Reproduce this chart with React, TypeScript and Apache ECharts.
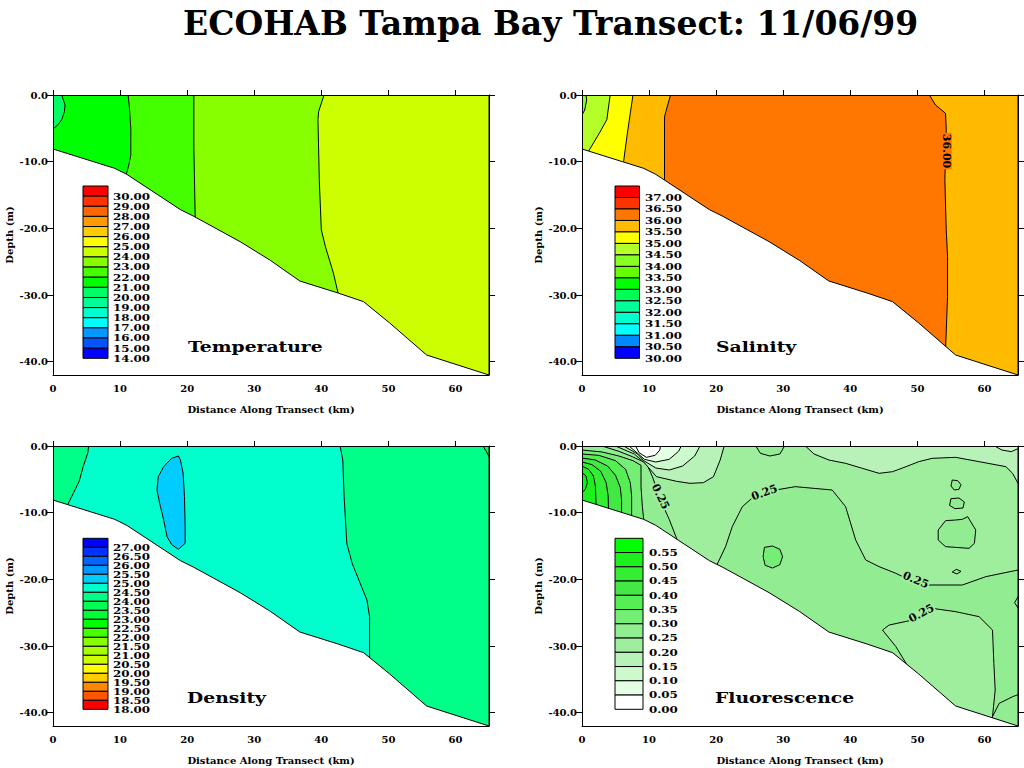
import React, { useEffect, useRef } from 'react';
import * as echarts from 'echarts';

const FONT = 'DejaVu Serif';

// ---------- axes ----------
const xTicks = [0, 10, 20, 30, 40, 50, 60];
const yTicks = [0, -10, -20, -30, -40];
const X_MAX = 65;
const Y_MIN = -42;

// ---------- bathymetry (km, m) ----------
const bathymetry: [number, number][] = [
  [0, -8.1], [9.2, -11.0], [11, -11.9], [19, -17.2], [21, -18.2], [27.9, -22], [32.4, -24.8],
  [36.8, -27.9], [42.5, -29.7], [46.3, -31], [50.2, -34.2], [55.7, -39], [65, -42],
];

type Region = { level: number; pts: [number, number][] };
type CLabel = { text: string; x: number; y: number; rot: number; bg: string };

// ---------- Temperature ----------
const tempLevels = [30, 29, 28, 27, 26, 25, 24, 23, 22, 21, 20, 19, 18, 17, 16, 15, 14];
const tempColors = ['#ff0000', '#ff3300', '#ff6600', '#ff9900', '#ffcc00', '#ffff00', '#ccff00', '#88ff00',
  '#44ff00', '#00ff00', '#00ff66', '#00ff99', '#00ffcc', '#00ffff', '#0099ff', '#0055ff', '#0000ff'];
const tempRegions: Region[] = [
  { level: 24, pts: [[0, 0], [65, 0], [65, -45], [0, -45]] },
  { level: 23, pts: [[0, 0], [40.4, 0], [39.6, -2.5], [39.5, -3.7], [39.7, -12.7], [40, -20.2], [40.6, -22.7], [41.8, -26.7], [42.5, -29.7], [42.5, -45], [0, -45]] },
  { level: 22, pts: [[0, 0], [21, 0], [21, -8], [21.2, -18.3], [21.2, -45], [0, -45]] },
  { level: 21, pts: [[0, 0], [11.2, 0], [11.4, -2], [11.6, -5], [11.6, -9], [11.3, -10.5], [10.9, -12], [10.9, -45], [0, -45]] },
  { level: 20, pts: [[0, 0], [1.3, 0], [1.8, -1.5], [1.7, -2.5], [1.3, -3.7], [0.7, -4.5], [0, -5.1]] },
];
const tempLabels: CLabel[] = [];

// ---------- Salinity ----------
const salLevels = [37, 36.5, 36, 35.5, 35, 34.5, 34, 33.5, 33, 32.5, 32, 31.5, 31, 30.5, 30];
const salColors = ['#ff0000', '#ff3300', '#ff7700', '#ffbb00', '#ffff00', '#b4ff2a', '#88ff22', '#66ff00',
  '#00ff00', '#00ff55', '#00ff99', '#00ffcc', '#00ffff', '#0088ff', '#0000ff'];
const salRegions: Region[] = [
  { level: 35.5, pts: [[0, 0], [65, 0], [65, -45], [0, -45]] },
  { level: 36, pts: [[13.2, 0], [51.8, 0], [52.7, -1.5], [54.2, -2.75], [54.3, -5.2], [54.1, -12.7], [54.3, -20.2], [54.5, -24.2], [54.5, -30.2], [54.2, -38.2], [54.2, -45], [12.3, -45], [12.3, -12.7], [12.3, -3.3], [12.5, -2.5]] },
  { level: 35, pts: [[0, 0], [7.6, 0], [7.2, -2.75], [6.7, -6.2], [6.2, -10], [6.2, -45], [0, -45]] },
  { level: 34.5, pts: [[0, 0], [4.2, 0], [4.1, -0.75], [3.7, -3.7], [2.6, -5.7], [1.0, -8.4], [1, -45], [0, -45]] },
  { level: 34, pts: [[0, 0], [0.6, 0], [0.7, -0.75], [0.4, -2.25], [0, -3]] },
];
const salLabels: CLabel[] = [{ text: '36.00', x: 54.3, y: -8.4, rot: -Math.PI / 2, bg: '#ff7700' }];

// ---------- Density ----------
const denLevels = [27, 26.5, 26, 25.5, 25, 24.5, 24, 23.5, 23, 22.5, 22, 21.5, 21, 20.5, 20, 19.5, 19, 18.5, 18];
const denColors = ['#0000ff', '#0033ff', '#0066ff', '#0099ff', '#00ccff', '#00ffcc', '#00ff88', '#00ff55',
  '#00ff33', '#00ff00', '#44ff00', '#88ff00', '#aaff00', '#ccff00', '#ffff00', '#ffcc00', '#ff8800', '#ff5500', '#ff0000'];
const denRegions: Region[] = [
  { level: 24, pts: [[0, 0], [65, 0], [65, -45], [0, -45]] },
  { level: 24.5, pts: [[5.3, 0], [42.8, 0], [43.2, -2.1], [43.4, -7.6], [43.8, -14.6], [44.6, -17.6], [45.8, -20.6], [46.8, -23.1], [47.2, -25.6], [47.2, -31.8], [47.2, -45], [2.2, -45], [2.2, -8.8], [3.9, -5.3], [4.5, -3.1], [5.2, -1.0]] },
  { level: 25, pts: [[18.7, -1.5], [19.0, -2.1], [19.4, -4.1], [19.6, -7.6], [19.7, -12.1], [19.7, -14.6], [18.7, -15.5], [17.7, -14.8], [17.0, -13.6], [16.5, -11.1], [15.9, -8.6], [15.5, -6.6], [15.7, -4.6], [16.5, -3.1], [17.7, -1.85]] },
  { level: 23.5, pts: [[64.1, 0], [65, 0], [65, -1.6], [64.6, -0.8]] },
];
const denLabels: CLabel[] = [];

// ---------- Fluorescence ----------
const fluLevels = [0.55, 0.5, 0.45, 0.4, 0.35, 0.3, 0.25, 0.2, 0.15, 0.1, 0.05, 0];
const fluColors = ['#00ff00', '#1ef01e', '#33ee33', '#44e844', '#55ee55', '#74ee74', '#92ec92', '#9eee9e',
  '#b8f2b8', '#ccfacc', '#e4ffe4', '#ffffff'];
const fluRegions: Region[] = [
  { level: 0.2, pts: [[0, 0], [65, 0], [65, -45], [0, -45]] },
  { level: 0.25, pts: [[20.1, -17.85], [21.4, -15.1], [22.4, -12.1], [23.9, -9.1], [25.6, -7.6], [27.4, -6.85], [31.8, -6.1], [37.3, -6.6], [39.3, -9.1], [40.8, -14.1], [42.3, -17.1], [44.3, -18.1], [46.8, -19.1], [49.3, -20.35], [51.7, -20.85], [56.7, -20.85], [60.2, -19.6], [65, -18.6], [65, -45], [20.1, -45]] },
  { level: 0.2, pts: [[48.8, -33.4], [46.8, -30.1], [44.8, -27.6], [45.8, -26.85], [49.3, -26.1], [52.2, -24.35], [55.7, -24.85], [59.2, -25.6], [61.2, -27.6], [61.4, -32.6], [61.6, -36.6], [61.2, -40.6], [61.2, -45], [48.8, -45]] },
  { level: 0.25, pts: [[61.2, -40.6], [62.2, -38.6], [64.2, -37.6], [65, -37.3], [65, -45], [61.2, -45]] },
  { level: 0.3, pts: [[27.2, -15.2], [28.4, -15.0], [29.5, -15.5], [29.9, -16.6], [29.5, -17.8], [28.4, -18.3], [27.3, -17.9], [27.0, -16.6]] },
  { level: 0.25, pts: [[55.2, -5.1], [56.0, -5.2], [56.5, -5.8], [56.2, -6.5], [55.5, -6.6], [55.0, -6.0]] },
  { level: 0.25, pts: [[55.0, -7.9], [56.2, -7.8], [57.0, -8.4], [56.8, -9.3], [55.6, -9.4], [54.8, -8.9]] },
  { level: 0.25, pts: [[54.2, -11.2], [55.7, -11.1], [56.7, -11.0], [57.5, -10.6], [58.7, -12.6], [58.5, -14.6], [57.7, -15.35], [54.2, -15.1], [53.1, -14.1], [53.1, -12.6]] },
  { level: 0.25, pts: [[55.2, -18.9], [55.8, -18.5], [56.5, -18.8], [55.9, -19.2]] },
  { level: 0.25, pts: [[25.9, 0], [26.6, -1.1], [28, -1.5], [29.5, -1.2], [30.2, 0]] },
  { level: 0.15, pts: [[33.3, 0], [34.6, -1.2], [36.8, -2.1], [39.3, -2.6], [41.8, -3.35], [44.3, -4.1], [46.3, -3.85], [48.3, -3.1], [50.2, -2.35], [52.2, -1.85], [55.7, -1.7], [59.2, -2.35], [63.2, -3.1], [64.2, -4.1], [65, -5.6], [65, 0]] },
  { level: 0.1, pts: [[61.5, 0], [62.6, -0.6], [64, -0.85], [65, -0.4], [65, 0]] },
  { level: 0.2, pts: [[65, -22.6], [64.5, -23.5], [65, -24.3]] },
  { level: 0.25, pts: [[0, 0], [3, 0], [5.5, -0.8], [7.5, -1.6], [9.2, -2.4], [9.7, -2.8], [10.5, -4.6], [11.7, -8.1], [13, -11], [14.2, -14.1], [14.2, -45], [0, -45]] },
  { level: 0.3, pts: [[0, -0.6], [3, -0.9], [5.5, -1.5], [7.6, -2.2], [8.8, -2.9], [8.8, -4.1], [8.8, -6.1], [9.0, -9.1], [9.2, -11.0], [9.2, -45], [0, -45]] },
  { level: 0.35, pts: [[0, -1.2], [2.5, -1.4], [5, -2.2], [6.5, -3.5], [7.2, -5.5], [7.4, -7.5], [7.4, -10.4], [7.4, -45], [0, -45]] },
  { level: 0.4, pts: [[0, -1.8], [2, -2.1], [3.8, -3.0], [5, -4.4], [5.7, -6.2], [5.9, -8.0], [5.9, -10], [5.9, -45], [0, -45]] },
  { level: 0.45, pts: [[0, -2.4], [1.5, -2.8], [2.8, -3.8], [3.6, -5.5], [3.9, -7.5], [3.95, -9.4], [3.95, -45], [0, -45]] },
  { level: 0.5, pts: [[0, -3.0], [1.0, -3.5], [1.7, -4.5], [2.0, -6], [2.1, -8.8], [2.1, -45], [0, -45]] },
  { level: 0.55, pts: [[0, -4], [0.6, -4.5], [0.8, -5.5], [0.5, -6.5], [0, -7]] },
  { level: 0.15, pts: [[5, 0], [7.8, -1.2], [9.2, -2.4], [11.1, -4.6], [14.1, -5.3], [16.1, -5.6], [18.1, -5.5], [19.6, -4.6], [20.6, -2.1], [21.2, 0]] },
  { level: 0.1, pts: [[6.2, 0], [8.3, -1.2], [9.2, -2.2], [11, -3.3], [13, -3.6], [15, -3], [16.8, -1.5], [17.6, 0]] },
  { level: 0.05, pts: [[7.0, 0], [8.4, -1.2], [9.3, -2.0], [11, -2.4], [13, -2.0], [14.4, -0.8], [14.8, 0]] },
  { level: 0, pts: [[8.0, 0], [8.5, -1.0], [9.6, -1.7], [10.9, -1.4], [11.6, -0.6], [11.7, 0]] },
];
const fluLabels: CLabel[] = [
  { text: '0.25', x: 11.7, y: -7.6, rot: -1.13, bg: '#9eee9e' },
  { text: '0.25', x: 27.2, y: -7.0, rot: 0.35, bg: '#9eee9e' },
  { text: '0.25', x: 49.75, y: -20.1, rot: -0.4, bg: '#9eee9e' },
  { text: '0.25', x: 50.6, y: -25.1, rot: 0.5, bg: '#9eee9e' },
];

type Panel = {
  title: string; levels: number[]; colors: string[]; regions: Region[]; labels: CLabel[];
  left: number; top: number; lx: number; ly: number; lw: number; lh: number; tx: number;
  nx: number; ny: number; digits: number;
};

const panels: Panel[] = [
  { title: 'Temperature', levels: tempLevels, colors: tempColors, regions: tempRegions, labels: tempLabels,
    left: 53, top: 95, lx: 83, ly: 186, lw: 25, lh: 172.3, tx: 113, nx: 188, ny: 347, digits: 2 },
  { title: 'Salinity', levels: salLevels, colors: salColors, regions: salRegions, labels: salLabels,
    left: 582, top: 95, lx: 615, ly: 186, lw: 24.5, lh: 172.3, tx: 645, nx: 716, ny: 347, digits: 2 },
  { title: 'Density', levels: denLevels, colors: denColors, regions: denRegions, labels: denLabels,
    left: 53, top: 446, lx: 83, ly: 538.3, lw: 25, lh: 171, tx: 113, nx: 187, ny: 698, digits: 2 },
  { title: 'Fluorescence', levels: fluLevels, colors: fluColors, regions: fluRegions, labels: fluLabels,
    left: 582, top: 446, lx: 615, ly: 538.3, lw: 28, lh: 171, tx: 649, nx: 715, ny: 698, digits: 2 },
];

const GRID_W = 436;
const GRID_H = 280;

function buildOption() {
  const axisFont = { fontFamily: FONT, fontWeight: 'bold' as const, fontSize: 10, color: '#000' };
  const line = { show: true, onZero: false, lineStyle: { color: '#000', width: 1 } };
  const grid: any[] = [];
  const xAxis: any[] = [];
  const yAxis: any[] = [];
  const series: any[] = [];
  const graphic: any[] = [];

  panels.forEach((p, k) => {
    grid.push({ left: p.left, top: p.top, width: GRID_W, height: GRID_H, containLabel: false });
    xAxis.push({
      gridIndex: k, type: 'value', min: 0, max: X_MAX, position: 'bottom', z: 10,
      axisLine: line, axisTick: { show: false },
      axisLabel: { ...axisFont, margin: 8, customValues: xTicks, formatter: (v: number) => String(v) },
      splitLine: { show: false },
      name: 'Distance Along Transect (km)', nameLocation: 'middle', nameGap: 29,
      nameTextStyle: axisFont,
    });
    xAxis.push({
      gridIndex: k, type: 'value', min: 0, max: X_MAX, position: 'top', z: 10,
      axisLine: line, axisTick: { show: true, inside: false, length: 5, customValues: xTicks, lineStyle: { color: '#000' } },
      axisLabel: { show: false }, splitLine: { show: false },
    });
    yAxis.push({
      gridIndex: k, type: 'value', min: Y_MIN, max: 0, position: 'left', z: 10,
      axisLine: line,
      axisTick: { show: true, inside: false, length: 6, customValues: yTicks, lineStyle: { color: '#000' } },
      axisLabel: { ...axisFont, margin: 5, customValues: yTicks, formatter: (v: number) => v.toFixed(1) },
      splitLine: { show: false },
      name: 'Depth (m)', nameLocation: 'middle', nameGap: 39, nameRotate: 90,
      nameTextStyle: axisFont,
    });
    yAxis.push({
      gridIndex: k, type: 'value', min: Y_MIN, max: 0, position: 'right', z: 10,
      axisLine: line,
      axisTick: { show: true, inside: false, length: 6, customValues: yTicks, lineStyle: { color: '#000' } },
      axisLabel: { show: false }, splitLine: { show: false },
    });

    const xi = 2 * k;
    const yi = 2 * k;
    const regions = p.regions;
    series.push({
      type: 'custom', name: p.title, xAxisIndex: xi, yAxisIndex: yi, clip: true, silent: true, z: 2,
      data: regions.map((r) => r.pts[0]),
      renderItem: (params: any, api: any) => {
        const r = regions[params.dataIndex];
        const points = r.pts.map((pt) => api.coord(pt));
        return {
          type: 'polygon', shape: { points },
          style: { fill: p.colors[p.levels.indexOf(r.level)], stroke: '#000', lineWidth: 1 },
        };
      },
    });
    series.push({
      type: 'custom', name: p.title + ' bottom', xAxisIndex: xi, yAxisIndex: yi, clip: true, silent: true, z: 3,
      data: [bathymetry[0]],
      renderItem: (params: any, api: any) => {
        const linePts = bathymetry.map((pt) => api.coord(pt));
        const mask = [...linePts, api.coord([X_MAX, Y_MIN - 5]), api.coord([0, Y_MIN - 5])];
        return {
          type: 'group',
          children: [
            { type: 'polygon', shape: { points: mask }, style: { fill: '#ffffff', stroke: null } },
            { type: 'polyline', shape: { points: linePts }, style: { stroke: '#000', lineWidth: 1, fill: null } },
          ],
        };
      },
    });
    if (p.labels.length) {
      const labels = p.labels;
      series.push({
        type: 'custom', name: p.title + ' labels', xAxisIndex: xi, yAxisIndex: yi, clip: false, silent: true, z: 4,
        data: labels.map((l) => [l.x, l.y]),
        renderItem: (params: any, api: any) => {
          const l = labels[params.dataIndex];
          const c = api.coord([l.x, l.y]);
          return {
            type: 'text', x: c[0], y: c[1], rotation: l.rot,
            style: {
              text: l.text, font: `bold 11px "${FONT}"`, fill: '#000',
              textAlign: 'center', textVerticalAlign: 'middle',
              backgroundColor: l.bg, padding: [0, 1],
            },
          };
        },
      });
    }

    // colour key
    const n = p.levels.length;
    const h = p.lh / n;
    p.levels.forEach((lv, i) => {
      graphic.push({
        type: 'rect', z: 100, silent: true,
        shape: { x: p.lx, y: p.ly + i * h, width: p.lw, height: h },
        style: { fill: p.colors[i], stroke: '#000', lineWidth: 1 },
      });
      graphic.push({
        type: 'text', z: 100, silent: true, x: p.tx, y: p.ly + h * (i + 1), scaleX: 1.32,
        style: { text: lv.toFixed(p.digits), x: 0, y: 0, font: `bold 9px "${FONT}"`, fill: '#000',
          textAlign: 'left', textVerticalAlign: 'middle' },
      });
    });
    graphic.push({
      type: 'text', z: 100, silent: true, x: p.nx, y: p.ny, scaleX: 1.25,
      style: { text: p.title, x: 0, y: 0, font: `bold 15px "${FONT}"`, fill: '#000',
        textAlign: 'left', textVerticalAlign: 'middle' },
    });
  });

  return {
    animation: false,
    backgroundColor: '#ffffff',
    title: {
      text: 'ECOHAB Tampa Bay Transect: 11/06/99', left: 178, top: 2,
      textStyle: { fontFamily: FONT, fontWeight: 'bold', fontSize: 33, color: '#000' },
    },
    grid, xAxis, yAxis, series, graphic,
  };
}

export default function App() {
  const ref = useRef<HTMLDivElement>(null);
  useEffect(() => {
    if (!ref.current) return;
    const chart = echarts.init(ref.current, null, { renderer: 'svg' });
    chart.setOption(buildOption() as any);
    return () => chart.dispose();
  }, []);
  return <div ref={ref} style={{ position: 'absolute', left: 0, top: 0, width: 1024, height: 768 }} />;
}
